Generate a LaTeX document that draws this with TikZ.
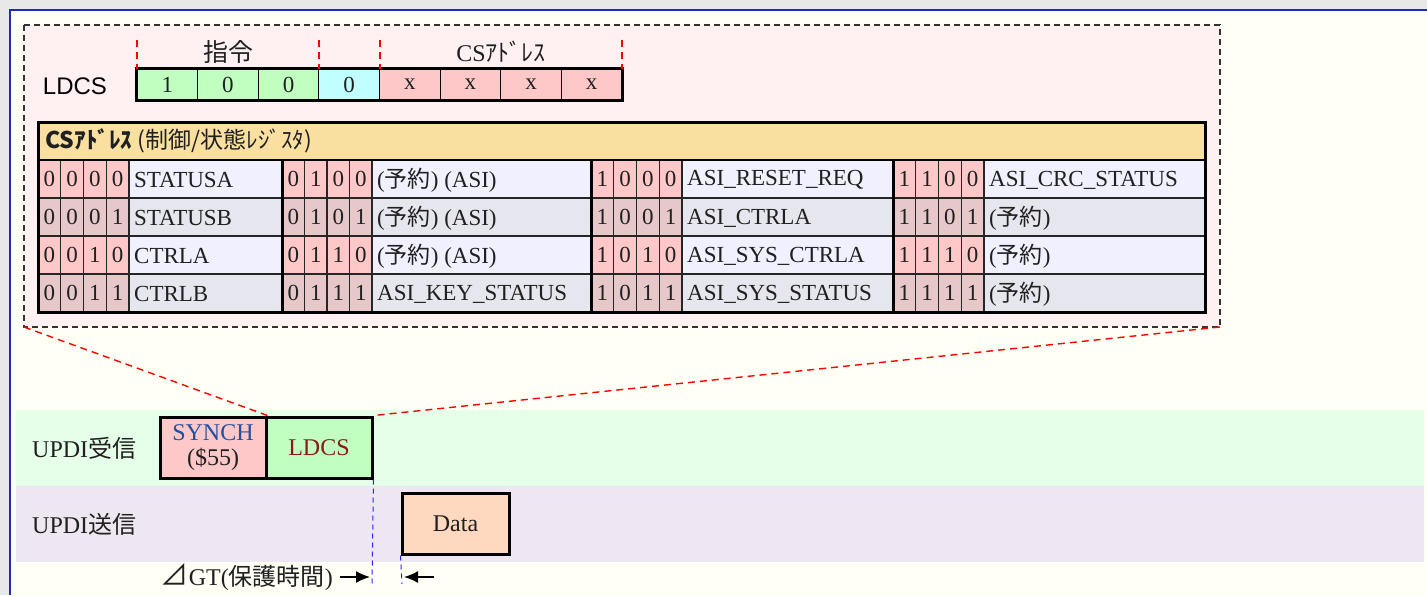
\documentclass[tikz,border=0pt]{standalone}
\usepackage{fontspec}
\setmainfont{Liberation Serif}
\setsansfont{Liberation Sans}
\newfontfamily\jp{Noto Sans CJK JP}
\newfontfamily\djv{DejaVu Sans}
\usetikzlibrary{arrows.meta,calc}
\definecolor{outergray}{HTML}{E8E8E8}
\definecolor{cream}{HTML}{FFFFF6}
\definecolor{frameblue}{HTML}{2028C0}
\definecolor{boxpink}{HTML}{FFF0F2}
\definecolor{bgreen}{HTML}{C0FFC0}
\definecolor{bcyan}{HTML}{C0FFFF}
\definecolor{bpink}{HTML}{FFC8C8}
\definecolor{hdrfill}{HTML}{FAE0A0}
\definecolor{rowlight}{HTML}{F0F0FE}
\definecolor{rowdark}{HTML}{E6E6EE}
\definecolor{bitlight}{HTML}{FFC8C8}
\definecolor{bitdark}{HTML}{E6C8C8}
\definecolor{bandgreen}{HTML}{E6FFE8}
\definecolor{bandpurple}{HTML}{EEE6F0}
\definecolor{datafill}{HTML}{FFD8C0}
\definecolor{synblue}{HTML}{2050A0}
\definecolor{ldred}{HTML}{8B1A1A}
\definecolor{txtdark}{HTML}{202020}
\newcommand\setfs[1]{\fontsize{#1}{#1}\selectfont}
\newcommand\rsv{({\jp 予約})}
\newcommand\regtxt[1]{\ifcase#1 STATUSA\or STATUSB\or CTRLA\or CTRLB\or
 \rsv\ (ASI)\or \rsv\ (ASI)\or \rsv\ (ASI)\or ASI\_KEY\_STATUS\or
 ASI\_RESET\_REQ\or ASI\_CTRLA\or ASI\_SYS\_CTRLA\or ASI\_SYS\_STATUS\or
 ASI\_CRC\_STATUS\or \rsv\or \rsv\or \rsv\fi}
\tikzset{
  boxdash/.style={draw=black!80, line width=1.6pt, dash pattern=on 6pt off 4pt},
  reddash/.style={draw=red, line width=1.4pt, dash pattern=on 7pt off 5pt},
  bluedash/.style={draw=blue!85, line width=1pt, dash pattern=on 5pt off 4pt},
  ldbit/.style={draw=black, line width=1.2pt, minimum width=60.625pt, minimum height=31pt, inner sep=0pt, font=\setfs{23}, text=txtdark},
  tbit/.style={draw=black!85, line width=1.2pt, minimum height=38pt, inner sep=0pt, font=\setfs{23}, text=txtdark},
  tcell/.style={draw=black!85, line width=1.2pt, minimum height=38pt, inner sep=0pt},
  tname/.style={anchor=west, inner sep=0pt, font=\setfs{23}, text=txtdark},
  sig/.style={draw=black, line width=3pt, inner sep=0pt, font=\setfs{24}, align=center},
  lbl/.style={inner sep=0pt, font=\setfs{24}, text=txtdark},
  arr/.style={-{Latex[length=14pt,width=12pt]}, line width=1.6pt},
}
\begin{document}
\begin{tikzpicture}[x=1pt,y=-1pt]
\useasboundingbox (0,0) rectangle (1427,595);
\fill[outergray] (0,0) rectangle (1427,595);
\fill[cream] (9,9) rectangle (1427,595);
\draw[frameblue, line width=2pt] (9.5,595) -- (9.5,9.5) -- (1427,9.5);
% signal bands
\fill[bandgreen] (16,410) rectangle (1424,486);
\fill[bandpurple] (16,486) rectangle (1424,562);
% dashed detail box
\draw[boxdash, fill=boxpink] (24,25) rectangle (1220,327);
\coordinate (dbSW) at (24,327);
\coordinate (dbSE) at (1220,327);
% LDCS instruction bits
\node[inner sep=0pt, font=\sffamily\setfs{24}] (ldcslabel) at (75,86) {LDCS};
\foreach \i/\v/\c in {1/1/bgreen,2/0/bgreen,3/0/bgreen,4/0/bcyan,5/x/bpink,6/x/bpink,7/x/bpink,8/x/bpink}
  \node[ldbit, fill=\c] (b\i) at ({137+60.625*(\i-0.5)},84.5) {\v};
\draw[line width=3pt] (b1.north west) rectangle (b8.south east);
\foreach \n/\x in {t1/137,t2/319,t3/380,t4/622}{
  \coordinate (\n a) at (\x,40);
  \coordinate (\n b) at (\x,69);
  \draw[reddash] (\n a) -- (\n b);
}
\node[lbl, font=\jp\setfs{25}] (lblop) at (228,52) {指令};
\node[lbl, font=\setfs{24}] (lblcs) at (501,52) {CS{\jp ｱﾄﾞﾚｽ}};
% table header
\node[draw=black, line width=1.2pt, fill=hdrfill, anchor=north west, minimum width=1167pt, minimum height=38pt, inner sep=0pt] (hdr) at (38,122) {};
\node[anchor=west, inner sep=0pt, text=txtdark] (hdrtxt) at (45,141) {{\jp\bfseries\setfs{23}CSｱﾄﾞﾚｽ}\hspace{6pt}{\jp\setfs{23}(制御/状態ﾚｼﾞｽﾀ)}};
% table rows
\foreach \g/\xb/\xt/\xe in {0/38/129/282, 1/282/372/591, 2/591/682/893, 3/893/984/1205}{
  \foreach \r in {0,...,3}{
    \pgfmathtruncatemacro\idx{4*\g+\r}
    \pgfmathsetmacro\ym{179+38*\r}
    \pgfmathsetmacro\cw{(\xt-\xb)/4}
    \pgfmathsetmacro\tw{\xe-\xt}
    \ifodd\r \def\rowc{rowdark}\def\bitc{bitdark}\else \def\rowc{rowlight}\def\bitc{bitlight}\fi
    \foreach \k in {0,...,3}{
      \pgfmathtruncatemacro\bv{mod(floor(\idx/(2^(3-\k))),2)}
      \node[tbit, fill=\bitc, minimum width=\cw pt] (c\g\r\k) at ({\xb+\cw*(\k+0.5)},\ym) {\bv};
    }
    \node[tcell, fill=\rowc, minimum width=\tw pt] (t\g\r) at ({(\xt+\xe)/2},\ym) {};
    \node[tname] (n\g\r) at ({\xt+5},\ym+1) {\regtxt{\idx}};
  }
}
\draw[line width=2.5pt] (38,160) -- (1205,160);
\foreach \x in {282,591,893} \draw[line width=3pt] (\x,160) -- (\x,312);
\draw[line width=3pt] (38,122) rectangle (1205,312);
% signal lines
\node[lbl, anchor=west] (rx) at (32,448) {UPDI{\jp 受信}};
\node[lbl, anchor=west] (tx) at (32,524) {UPDI{\jp 送信}};
\node[sig, fill=bpink, minimum width=106pt, minimum height=61pt] (syn) at (213,447.5)
  {\textcolor{synblue}{SYNCH}\\[1pt]\textcolor{txtdark}{(\$55)}};
\node[sig, fill=bgreen, minimum width=106pt, minimum height=61pt, text=ldred] (ldcs) at (319,447.5) {LDCS};
\node[sig, fill=datafill, minimum width=107pt, minimum height=61pt, text=txtdark] (data) at (455.5,523.5) {Data};
% zoom lines
\draw[reddash] (dbSW) -- (syn.north east);
\draw[reddash] (dbSE) -- (ldcs.north east);
% guard time
\coordinate (g1) at (372,584);
\coordinate (g2) at (402,584);
\draw[bluedash] (ldcs.south east) -- (g1);
\draw[bluedash] (data.south west) -- (g2);
\coordinate (a1s) at (340,577);
\coordinate (a1e) at (370,577);
\coordinate (a2s) at (434,577);
\coordinate (a2e) at (404,577);
\draw[arr] (a1s) -- (a1e);
\draw[arr] (a2s) -- (a2e);
\node[lbl, anchor=east] (gt) at (333,577) {{\jp\setfs{28}⊿}GT({\jp 保護時間})};
\end{tikzpicture}
\end{document}
